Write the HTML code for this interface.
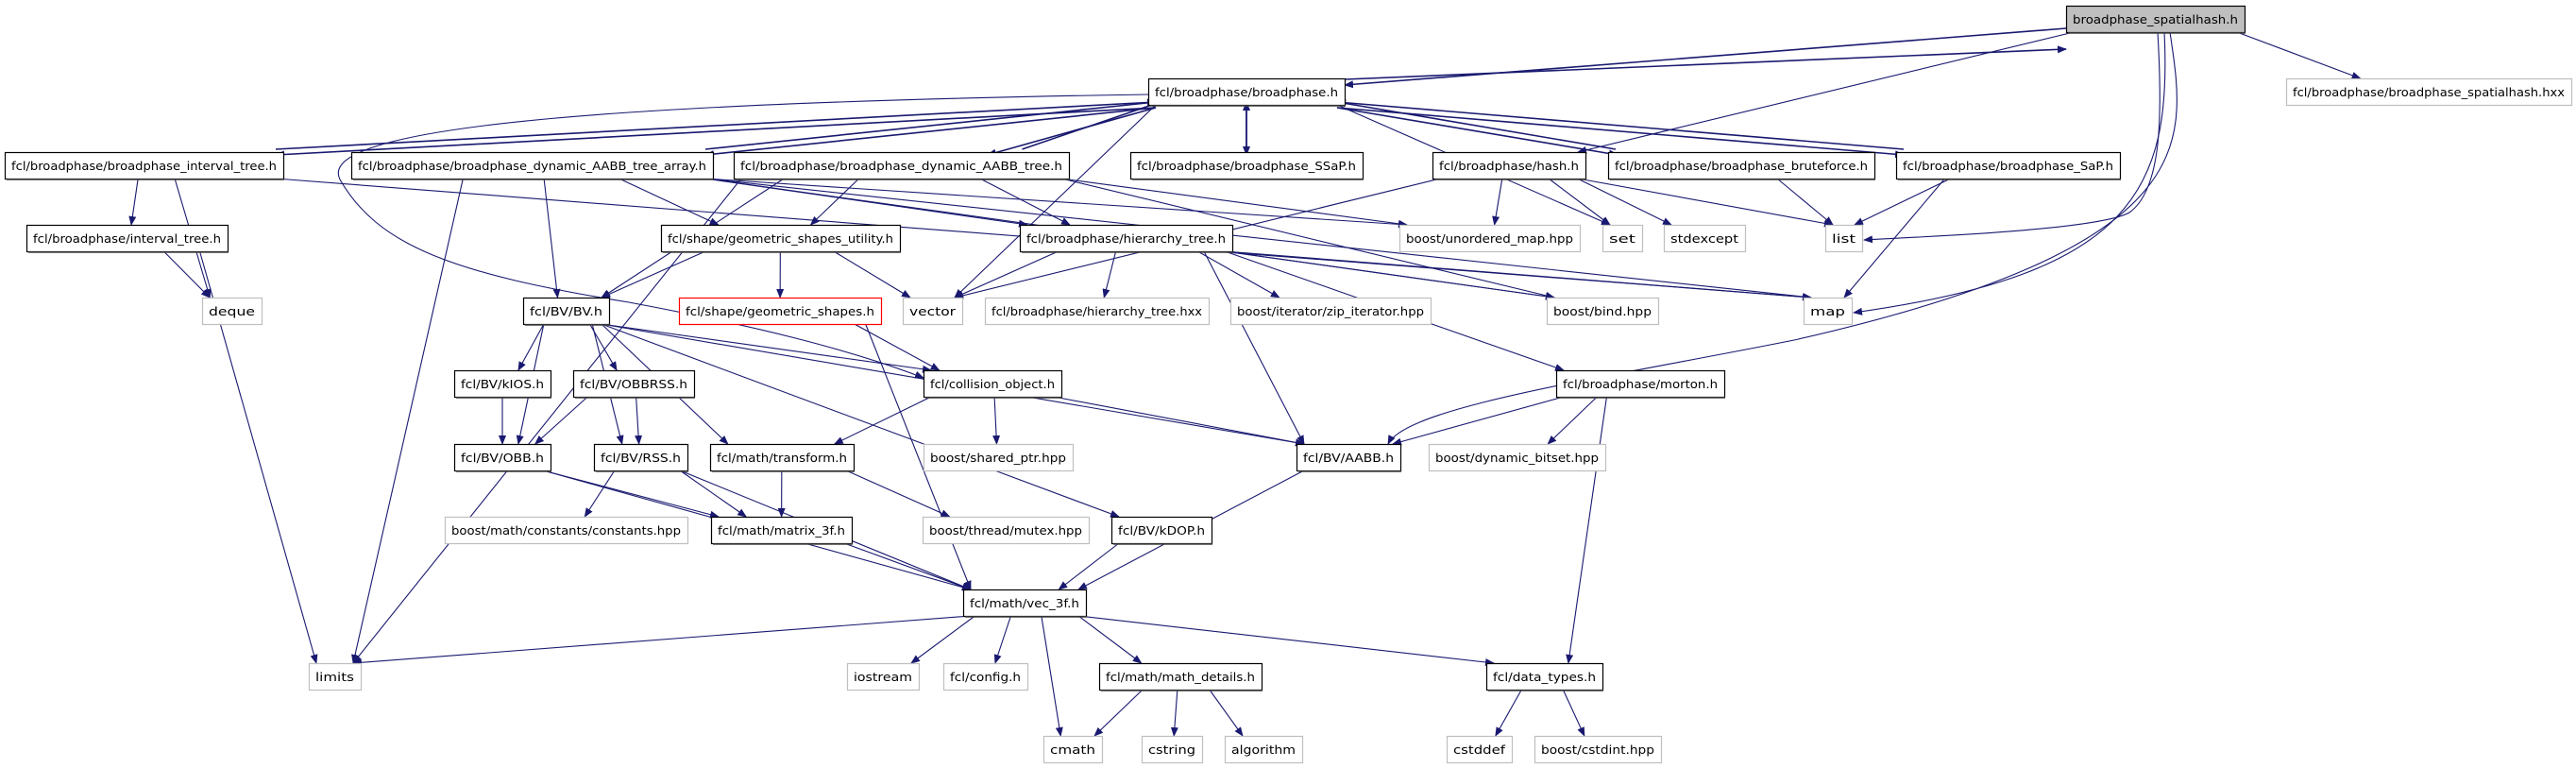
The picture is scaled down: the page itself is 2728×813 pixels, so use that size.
<!DOCTYPE html>
<html><head><meta charset="utf-8"><style>
html,body{margin:0;padding:0;background:#fff;}
svg{display:block;}
text{font-family:"DejaVu Sans","Liberation Sans",sans-serif;font-size:12px;fill:#000;}
</style></head><body>
<svg id="g" width="2728" height="813" xmlns="http://www.w3.org/2000/svg">
<defs><marker id="a" markerWidth="10" markerHeight="8" refX="9" refY="4" orient="auto" markerUnits="userSpaceOnUse"><path d="M0,0 L10,4 L0,8 z" fill="#191970"/></marker></defs>
<g id="e"></g><g id="n"></g>
</svg>
<script>
var H=28;
var N={
sp:[2188,2377,6,"broadphase_spatialhash.h",2],
hxx:[2421,2723,83,"fcl/broadphase/broadphase_spatialhash.hxx",1],
bp:[1216,1424,83,"fcl/broadphase/broadphase.h",0],
ivt:[5,300,161,"fcl/broadphase/broadphase_interval_tree.h",0],
arr:[372,755,161,"fcl/broadphase/broadphase_dynamic_AABB_tree_array.h",0],
tree:[777,1132,161,"fcl/broadphase/broadphase_dynamic_AABB_tree.h",0],
ssap:[1197,1443,161,"fcl/broadphase/broadphase_SSaP.h",0],
hash:[1517,1679,161,"fcl/broadphase/hash.h",0],
brute:[1703,1985,161,"fcl/broadphase/broadphase_bruteforce.h",0],
sap:[2008,2245,161,"fcl/broadphase/broadphase_SaP.h",0],
itree:[28,241,238,"fcl/broadphase/interval_tree.h",0],
gsu:[700,953,238,"fcl/shape/geometric_shapes_utility.h",0],
htree:[1080,1305,238,"fcl/broadphase/hierarchy_tree.h",0],
umap:[1482,1673,238,"boost/unordered_map.hpp",1],
set:[1697,1739,238,"set",1],
stdx:[1762,1848,238,"stdexcept",1],
list:[1933,1972,238,"list",1],
deque:[214,277,315,"deque",1],
bv:[554,645,315,"fcl/BV/BV.h",0],
gs:[719,933,315,"fcl/shape/geometric_shapes.h",3],
vector:[956,1019,315,"vector",1],
hxx2:[1043,1280,315,"fcl/broadphase/hierarchy_tree.hxx",1],
zip:[1303,1515,315,"boost/iterator/zip_iterator.hpp",1],
bind:[1638,1756,315,"boost/bind.hpp",1],
map:[1910,1961,315,"map",1],
kios:[481,583,392,"fcl/BV/kIOS.h",0],
obbrss:[607,735,392,"fcl/BV/OBBRSS.h",0],
co:[978,1124,392,"fcl/collision_object.h",0],
morton:[1648,1826,392,"fcl/broadphase/morton.h",0],
obb:[481,583,470,"fcl/BV/OBB.h",0],
rss:[629,728,470,"fcl/BV/RSS.h",0],
tf:[752,904,470,"fcl/math/transform.h",0],
shp:[978,1136,470,"boost/shared_ptr.hpp",1],
aabb:[1373,1483,470,"fcl/BV/AABB.h",0],
bits:[1513,1700,470,"boost/dynamic_bitset.hpp",1],
cons:[471,728,547,"boost/math/constants/constants.hpp",1],
m3:[753,902,547,"fcl/math/matrix_3f.h",0],
mutex:[977,1153,547,"boost/thread/mutex.hpp",1],
kdop:[1177,1283,547,"fcl/BV/kDOP.h",0],
vec:[1020,1150,624,"fcl/math/vec_3f.h",0],
limits:[327,382,702,"limits",1],
ios:[897,973,702,"iostream",1],
cfg:[999,1088,702,"fcl/config.h",1],
md:[1164,1336,702,"fcl/math/math_details.h",0],
dt:[1574,1697,702,"fcl/data_types.h",0],
cmath:[1105,1167,779,"cmath",1],
cstr:[1209,1273,779,"cstring",1],
alg:[1297,1379,779,"algorithm",1],
cdef:[1532,1601,779,"cstddef",1],
cint:[1625,1759,779,"boost/cstdint.hpp",1]
};
var E="sp-bp sp-hash sp-hxx bp-sp bp-ivt bp-arr bp-tree bp-ssap bp-brute bp-sap bp-vector bp-set ivt-bp arr-bp tree-bp ssap-bp brute-bp sap-bp ivt-itree ivt-deque ivt-map itree-deque itree-limits arr-limits arr-bv arr-gsu arr-htree arr-umap arr-bind arr-map tree-bv tree-gsu tree-umap tree-bind tree-htree tree-limits hash-umap hash-set hash-stdx hash-list hash-vector brute-list sap-list sap-map htree-vector htree-hxx2 htree-zip htree-bind htree-map htree-aabb htree-morton gsu-bv gsu-gs gsu-vector gs-co gs-vec bv-kios bv-obbrss bv-obb bv-rss bv-tf bv-kdop bv-aabb bv-co kios-obb obbrss-obb obbrss-rss co-tf co-shp co-aabb obb-m3 obb-vec rss-cons rss-m3 rss-vec tf-m3 tf-mutex kdop-vec aabb-vec m3-vec morton-aabb morton-bits morton-dt vec-limits vec-ios vec-cfg vec-cmath vec-md vec-dt md-cmath md-cstr md-alg dt-cdef dt-cint".split(" ");
var ns="http://www.w3.org/2000/svg",ge=document.getElementById("e"),gn=document.getElementById("n");
function el(t,a,p){var e=document.createElementNS(ns,t);for(var k in a)e.setAttribute(k,a[k]);p.appendChild(e);return e;}
function cx(n){return (n[0]+n[1])/2;}
function path(d,w){el("path",{d:d,fill:"none",stroke:"#191970","stroke-width":w||1.1,"marker-end":"url(#a)"},ge);}
E.forEach(function(s){var p=s.split("-"),a=N[p[0]],b=N[p[1]];
 var ac=cx(a),bc=cx(b),x1,y1,x2,y2;
 if(b[2]>a[2]){y1=a[2]+H;y2=b[2];}
 else if(b[2]<a[2]){y1=a[2];y2=b[2]+H;}
 else{y1=a[2]+H/2;y2=b[2]+H/2;}
 if(b[2]==a[2]){x1=bc>ac?a[1]:a[0];x2=bc>ac?b[0]:b[1];}
 else{
  var d=bc-ac;
  x1=Math.max(a[0]+8,Math.min(a[1]-8,ac+d*0.35));
  x2=Math.max(b[0]+8,Math.min(b[1]-8,bc-d*0.25));
 }
 var off=0,w=1.1;
 if(p[0]=="bp"&&["ivt","arr","tree","ssap","brute","sap"].indexOf(p[1])>=0){off=3;w=1.6;}
 if(p[1]=="bp"&&p[0]!="sp"){off=-3;w=1.6;}
 if(p[0]=="sp"&&p[1]=="bp"||p[0]=="bp"&&p[1]=="sp"){w=1.6;off=p[0]=="sp"?2:-2;
   if(p[0]=="sp"){x1=a[0];y1=a[2]+22;x2=b[1];y2=b[2]+5;}else{x1=a[1];y1=a[2]+3;x2=b[0];y2=a[2]-56+27;}}
 path("M"+x1+","+(y1+off)+" L"+x2+","+(y2+off),w);
});
// special curves
path("M2285,34 C2290,120 2290,200 2255,225 C2220,245 2000,252 1974,254");
path("M2292,34 C2300,200 2260,290 1963,331");
path("M2298,34 C2315,150 2340,260 1900,360 C1700,400 1490,430 1470,470");
path("M1216,100 C700,108 330,130 360,190 C400,260 480,290 666,320 C800,345 900,370 978,400");
for(var k in N){var n=N[k];
 var fill=n[4]==2?"#bfbfbf":"#fff",st=n[4]==1?"#bfbfbf":(n[4]==3?"#ff0000":"#000");
 el("rect",{x:n[0]+.5,y:n[2]+.5,width:n[1]-n[0],height:H,fill:fill,stroke:st,"stroke-width":1.2},gn);
 if(n[4]==0||n[4]==2) el("line",{x1:n[0]+2,y1:n[2]+H+1,x2:n[1]+1,y2:n[2]+H+1,stroke:"#444","stroke-width":1.5},gn);
 var t=el("text",{x:cx(n),y:n[2]+19,"text-anchor":"middle",textLength:Math.max(10,n[1]-n[0]-14),lengthAdjust:"spacingAndGlyphs"},gn);
 t.textContent=n[3];
}
</script>
</body></html>
